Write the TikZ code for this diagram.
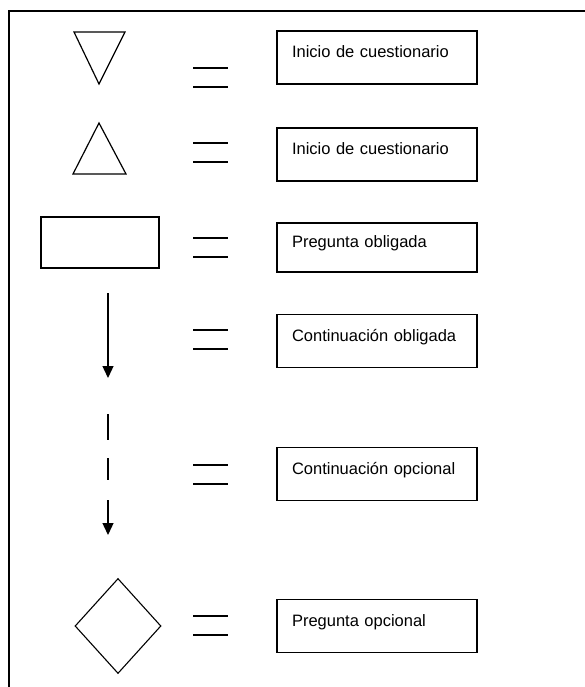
\documentclass[tikz,border=0pt]{standalone}
\usepackage{fontspec}
\setmainfont{Liberation Sans}
\usetikzlibrary{positioning,shapes.geometric,arrows.meta}

\begin{document}
\begin{tikzpicture}[x=1pt,y=-1pt,>={Triangle[length=12pt,width=11pt]},
		legendbox/.style={draw,line width=1.3pt,inner xsep=15pt,inner ysep=0pt,text width=170pt,align=left,text height=27pt,text depth=26pt,font=\fontsize{16.5}{19}\selectfont},
		symbol/.style={draw,line width=1.2pt,inner sep=0pt}]
		\useasboundingbox (0,0) rectangle (585,687);
		% frame
		\draw[line width=1.2pt] (585,11) -- (9,11) -- (9,687);
		
		% right column
		\node[legendbox] (box1) at (377,57.5) {Inicio de cuestionario};
		\node[legendbox] (box2) at (377,154.5) {Inicio de cuestionario};
		\node[legendbox,text height=24pt,text depth=25pt] (box3) at (377,247.5) {Pregunta obligada};
		\node[legendbox] (box4) at (377,341) {Continuación obligada};
		\node[legendbox] (box5) at (377,474) {Continuación opcional};
		\node[legendbox] (box6) at (377,626) {Pregunta opcional};
		
		% equal signs
		\foreach \y in {77.5,152.5,247.5,339.5,474.5,625.5}
			{\draw[line width=1.3pt] (193,\y-9.5) -- ++(35,0);
			 \draw[line width=1.3pt] (193,\y+9.5) -- ++(35,0);}
		
		% left column
		\draw[line width=1.2pt] (74,32) -- (125,32) -- (99,84) -- cycle;
		\draw[line width=1.2pt] (99,123) -- (126,174) -- (73,174) -- cycle;
		\node[symbol,rectangle,minimum width=118pt,minimum height=51pt] (preg) at (100,242.5) {};
		\coordinate (solid1) at (108,293);
		\coordinate (solid2) at (108,378);
		\draw[->,line width=1.3pt] (solid1) -- (solid2);
		\coordinate (dash1) at (108,414);
		\coordinate (dash2) at (108,535);
		\draw[->,line width=1.3pt,dash pattern=on 26pt off 18pt on 22pt off 20pt on 40pt off 1pt] (dash1) -- (dash2);
		\node[symbol,diamond,line width=1.1pt,minimum width=86pt,minimum height=95pt] (opc) at (118,626) {};
	\end{tikzpicture}
\end{document}
